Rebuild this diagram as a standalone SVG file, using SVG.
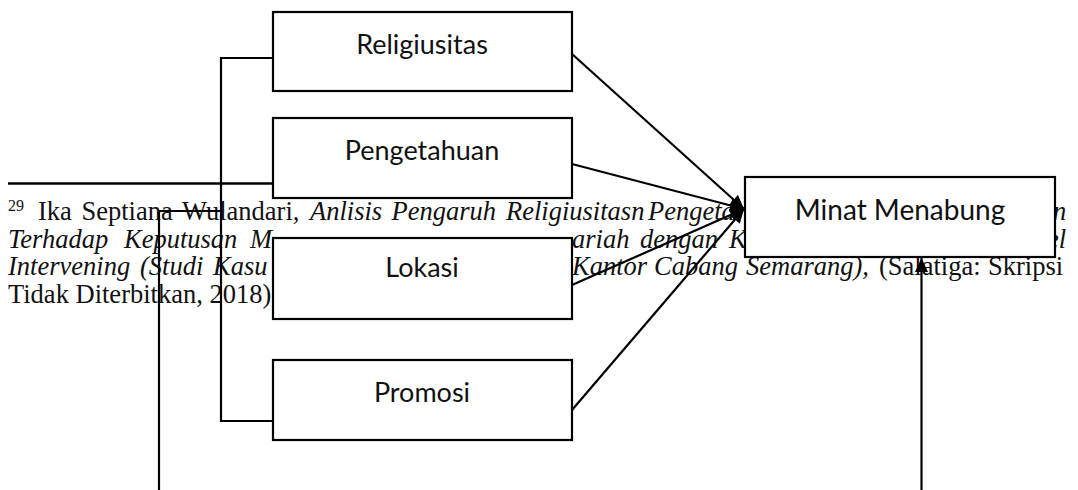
<svg xmlns="http://www.w3.org/2000/svg" width="1078" height="490" viewBox="0 0 1078 490">
<style>
.box{fill:#fff;stroke:#000;stroke-width:2.2}
.lbl{font-family:Lato,"Open Sans",sans-serif;font-size:27px;fill:#111;text-anchor:middle}
.fn{font-family:"Liberation Serif","Times New Roman",serif;font-size:26.5px;fill:#111}
.it{font-style:italic}
.ln{fill:none;stroke:#000;stroke-width:2.2}
</style>
<defs>
<marker id="ah" markerUnits="userSpaceOnUse" markerWidth="14" markerHeight="13" refX="14" refY="6.5" orient="auto">
<path d="M0,0 L14,6.5 L0,13 z" fill="#000"/>
</marker>
</defs>
<rect width="1078" height="490" fill="#fff"/>
<g id="footnote">
<line x1="8" y1="183.5" x2="273" y2="183.5" stroke="#000" stroke-width="2.6"/>
<text class="fn" x="8" y="211" style="font-size:16px">29</text>
<text class="fn" y="220"><tspan x="38">Ika</tspan><tspan x="81.5">Septiana</tspan><tspan x="182">Wulandari,</tspan><tspan class="it" x="310">Anlisis</tspan><tspan class="it" x="391.5">Pengaruh</tspan><tspan class="it" x="506">Religiusitasn</tspan><tspan class="it" x="648">Pengeta</tspan><tspan class="it" x="1053">n</tspan></text>
<text class="fn it" y="247.5"><tspan x="8">Terhadap</tspan><tspan x="124">Keputusan</tspan><tspan x="250">M</tspan><tspan x="572">ariah</tspan><tspan x="640">dengan</tspan><tspan x="729">K</tspan><tspan x="1047">el</tspan></text>
<text class="fn" y="275"><tspan class="it" x="8">Intervening</tspan><tspan class="it" x="140">(Studi</tspan><tspan class="it" x="213">Kasu</tspan><tspan class="it" x="572">Kantor</tspan><tspan class="it" x="654">Cabang</tspan><tspan class="it" x="746">Semarang),</tspan><tspan x="879">(Salatiga:</tspan><tspan x="988">Skripsi</tspan></text>
<text class="fn" x="8" y="302.5">Tidak Diterbitkan, 2018)</text>
</g>
<g id="connectors">
<polyline class="ln" points="273,58 221,58 221,421 273,421"/>
<polyline class="ln" points="221,211 159,211 159,490"/>
<line class="ln" x1="572" y1="54" x2="744" y2="209" marker-end="url(#ah)"/>
<line class="ln" x1="572" y1="164" x2="744" y2="209" marker-end="url(#ah)"/>
<line class="ln" x1="572" y1="285" x2="744" y2="209" marker-end="url(#ah)"/>
<line class="ln" x1="572" y1="410" x2="744" y2="209" marker-end="url(#ah)"/>
<line class="ln" x1="921.5" y1="490" x2="921.5" y2="258" marker-end="url(#ah)"/>
</g>
<g id="religiusitas"><rect class="box" x="273" y="12" width="299" height="79"/><text class="lbl" x="422" y="54">Religiusitas</text></g>
<g id="pengetahuan"><rect class="box" x="273" y="118" width="299" height="80"/><text class="lbl" x="422" y="160">Pengetahuan</text></g>
<g id="lokasi"><rect class="box" x="273" y="238" width="299" height="81"/><text class="lbl" x="422" y="277">Lokasi</text></g>
<g id="promosi"><rect class="box" x="273" y="360" width="299" height="80"/><text class="lbl" x="422" y="402">Promosi</text></g>
<g id="minat"><rect class="box" x="745" y="177" width="310" height="80"/><text class="lbl" x="900" y="220" style="font-size:28px">Minat Menabung</text></g>
</svg>
